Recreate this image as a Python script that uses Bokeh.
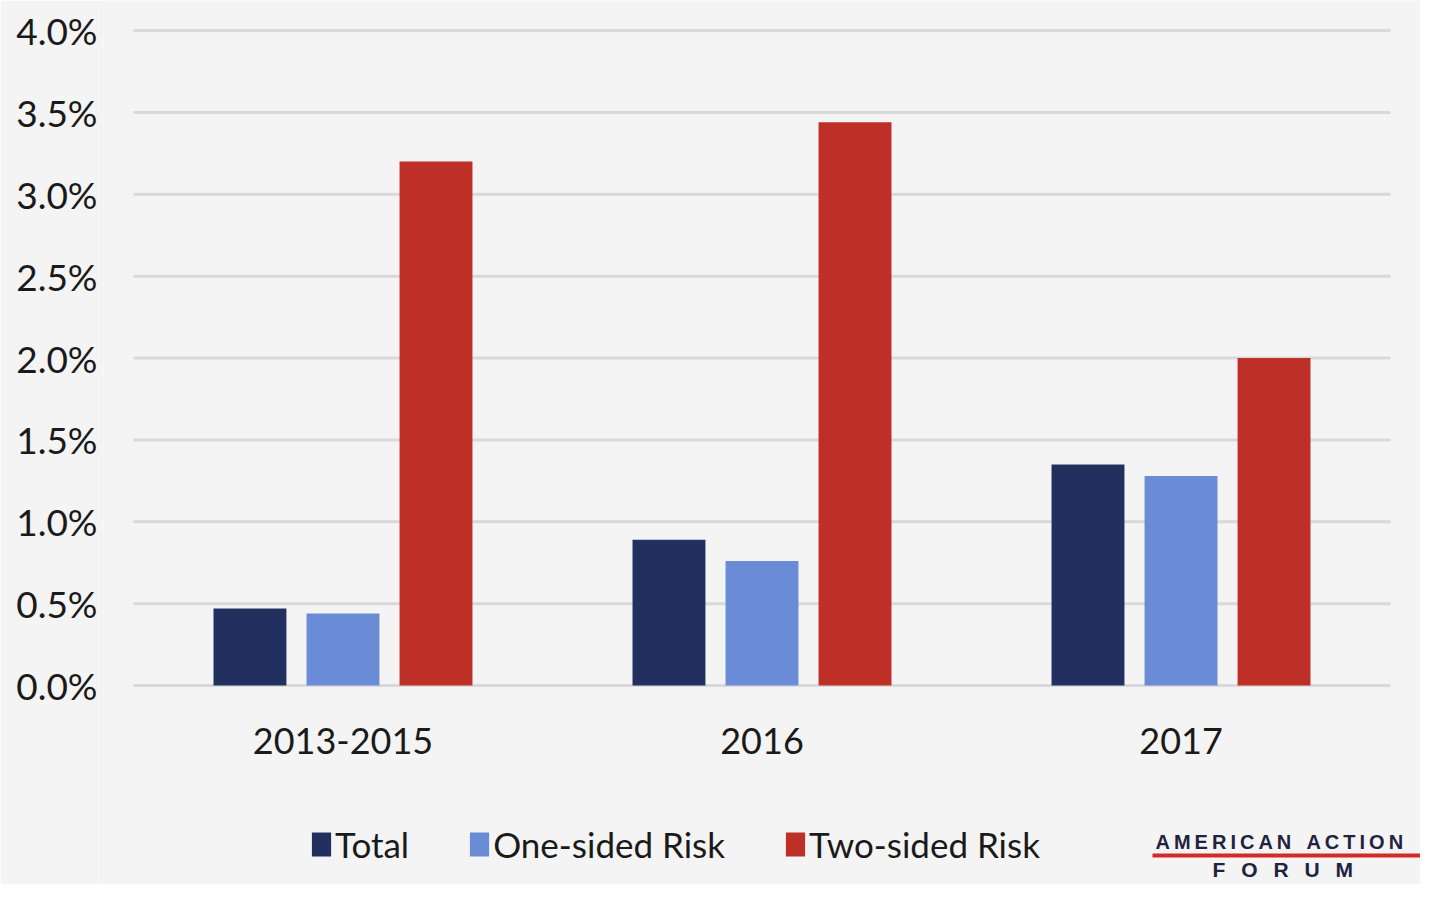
from bokeh.plotting import figure
from bokeh.models import (ColumnDataSource, FactorRange, Range1d, NumeralTickFormatter,
                          Legend, LegendItem, Label, BoxAnnotation, FixedTicker)
from bokeh.transform import dodge
from bokeh.core.properties import value
from bokeh.embed import file_html
from bokeh.resources import INLINE

# ---- data ----
categories = ["2013-2015", "2016", "2017"]
total = [0.0047, 0.0089, 0.0135]
one_sided = [0.0044, 0.0076, 0.0128]
two_sided = [0.0320, 0.0344, 0.0200]
series_names = ["Total", "One-sided Risk", "Two-sided Risk"]
y_ticks = [0.0, 0.005, 0.010, 0.015, 0.020, 0.025, 0.030, 0.035, 0.040]

colors = ["#22305f", "#6a8cd6", "#be2f27"]
BG = "#f4f4f4"
FONT = "Lato"

src = ColumnDataSource(dict(cat=categories, total=total, one=one_sided, two=two_sided))
grid_src = ColumnDataSource(dict(y=y_ticks,
                                 first=[categories[0]] * len(y_ticks),
                                 last=[categories[-1]] * len(y_ticks)))

# frame spans the full height so that legend and logo are not clipped
PX_PER_UNIT = 655 / 0.040
y_top = y_ticks[-1] + 30 / PX_PER_UNIT
y_bot = -199 / PX_PER_UNIT

p = figure(width=1420, height=884,
           x_range=FactorRange(*categories, range_padding=0.0477, range_padding_units="percent"),
           y_range=Range1d(y_bot, y_top), output_backend="svg", toolbar_location=None,
           x_axis_location=None,
           min_border_left=103, min_border_right=0, min_border_top=0, min_border_bottom=0)
p.background_fill_color = BG
p.border_fill_color = BG
p.outline_line_color = None
p.xgrid.grid_line_color = None
p.ygrid.grid_line_color = None

# gridlines limited to the category span
p.segment(x0=dodge("first", -0.5, range=p.x_range), x1=dodge("last", 0.5, range=p.x_range),
          y0="y", y1="y", source=grid_src, line_color="#d9d9d9", line_width=3)

off = 0.222
w = 0.174
r1 = p.vbar(x=dodge("cat", -off, range=p.x_range), top="total", width=w, source=src,
            color=colors[0], line_color=None)
r2 = p.vbar(x=dodge("cat", 0, range=p.x_range), top="one", width=w, source=src,
            color=colors[1], line_color=None)
r3 = p.vbar(x=dodge("cat", off, range=p.x_range), top="two", width=w, source=src,
            color=colors[2], line_color=None)

# category labels
p.text(x="cat", y=0, text="cat", source=src, y_offset=55,
       text_font=value(FONT), text_font_size="36px", text_color="#1a1a1a",
       text_align="center", text_baseline="middle")

# y axis
p.yaxis.ticker = FixedTicker(ticks=y_ticks)
p.yaxis.formatter = NumeralTickFormatter(format="0.0%")
ax = p.yaxis[0]
ax.axis_line_color = None
ax.major_tick_line_color = None
ax.minor_tick_line_color = None
ax.major_label_text_font = FONT
ax.major_label_text_color = "#1a1a1a"
ax.major_label_text_font_size = "37px"
ax.major_label_standoff = 0

# legend
legend = Legend(items=[LegendItem(label=series_names[0], renderers=[r1]),
                       LegendItem(label=series_names[1], renderers=[r2]),
                       LegendItem(label=series_names[2], renderers=[r3])],
                orientation="horizontal", location=(206, 19),
                label_text_font=FONT, label_text_font_size="35px", label_text_color="#1a1a1a",
                glyph_width=24, glyph_height=30, label_standoff=2, spacing=58,
                background_fill_alpha=0, border_line_color=None, padding=0, margin=0)
p.add_layout(legend, "center")

# logo
logo_navy = "#1f2340"
NB = "\u00a0"
TH = "\u2009"
p.add_layout(Label(x=1052, y=884 - 841, x_units="screen", y_units="screen",
                   text=TH.join("AMERICAN") + NB * 2 + TH + TH.join("ACTION"),
                   text_font="Liberation Sans",
                   text_font_style="bold", text_font_size="20px", text_color=logo_navy,
                   text_align="left", text_baseline="middle"))
p.add_layout(Label(x=1109, y=884 - 869, x_units="screen", y_units="screen",
                   text=(NB * 2 + TH).join("FORUM"), text_font="Liberation Sans",
                   text_font_style="bold", text_font_size="21px", text_color=logo_navy,
                   text_align="left", text_baseline="middle"))
p.add_layout(BoxAnnotation(left=1049, right=1320, bottom=884 - 857, top=884 - 853,
                           left_units="screen", right_units="screen",
                           bottom_units="screen", top_units="screen",
                           fill_color="#d42a2a", fill_alpha=1, line_color=None))

open("out.html", "w").write(file_html(p, INLINE))
